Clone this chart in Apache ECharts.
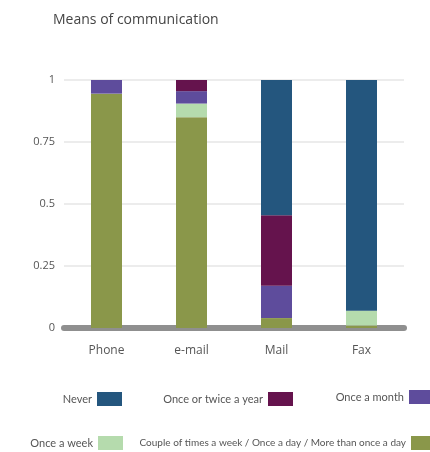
<!DOCTYPE html>
<html>
<head>
<meta charset="utf-8">
<script src="https://cdn.jsdelivr.net/npm/echarts@6/dist/echarts.min.js"></script>
<style>
  html, body { margin: 0; padding: 0; background: #fff; }
  #chart { width: 430px; height: 452px; }
</style>
</head>
<body>
<div id="chart"></div>
<script>
  // data (shares per means of communication)
  const categories = ['Phone', 'e-mail', 'Mail', 'Fax']
  const frequent = [0.945, 0.85, 0.04, 0.01]
  const weekly = [0, 0.055, 0, 0.06]
  const monthly = [0.055, 0.05, 0.13, 0]
  const yearly = [0, 0.045, 0.285, 0]
  const never = [0, 0, 0.545, 0.93]
  const yTicks = [0, 0.25, 0.5, 0.75, 1]

  const names = {
    never: 'Never',
    yearly: 'Once or twice a year',
    monthly: 'Once a month',
    weekly: 'Once a week',
    frequent: 'Couple of times a week / Once a day / More than once a day'
  }
  const colors = {
    never: '#24567e',
    yearly: '#65134d',
    monthly: '#5e4c9c',
    weekly: '#b5dbad',
    frequent: '#8a974a'
  }

  const font = 'Open Sans'
  const legendFont = 'Lato'
  const chart = echarts.init(document.getElementById('chart'))

  // one legend per item, anchored by the right edge of its swatch
  const legendAt = (key, right, top, size = 11) => ({
    data: [names[key]],
    right: right,
    top: top,
    align: 'right',
    icon: 'rect',
    itemWidth: 25,
    itemHeight: 14,
    padding: 0,
    selectedMode: false,
    textStyle: { fontFamily: legendFont, fontSize: size, color: '#555' }
  })

  const bar = key => ({
    name: names[key],
    type: 'bar',
    stack: 'all',
    barWidth: 31,
    data: { never, yearly, monthly, weekly, frequent }[key],
    itemStyle: { color: colors[key] }
  })

  chart.setOption({
    animation: false,
    title: {
      text: 'Means of communication',
      left: 48,
      top: 8,
      textStyle: { fontFamily: font, fontSize: 14, fontWeight: 'normal', color: '#444' }
    },
    legend: [
      legendAt('never', 308, 392),
      legendAt('yearly', 137, 392),
      legendAt('monthly', -4, 390),
      legendAt('weekly', 307, 436),
      legendAt('frequent', -6, 436, 10)
    ],
    grid: { left: 64, right: 26, top: 80, bottom: 124 },
    xAxis: {
      type: 'category',
      data: categories,
      offset: 3,
      axisLine: { lineStyle: { color: '#8f8f8f', width: 6, cap: 'round' } },
      axisTick: { show: false },
      axisLabel: { fontFamily: font, fontSize: 12, color: '#555', margin: 14 }
    },
    yAxis: {
      type: 'value',
      min: 0,
      max: 1,
      interval: 0.25,
      axisLine: { show: false },
      axisTick: { show: false },
      axisLabel: {
        fontFamily: font,
        fontSize: 11,
        color: '#555',
        margin: 9,
        padding: [0, 0, 6, 0],
        formatter: v => (yTicks.includes(v) ? String(v) : '')
      },
      splitLine: { lineStyle: { color: '#e6e6e6', width: 1.5 } }
    },
    series: [bar('frequent'), bar('weekly'), bar('monthly'), bar('yearly'), bar('never')]
  })
</script>
</body>
</html>
